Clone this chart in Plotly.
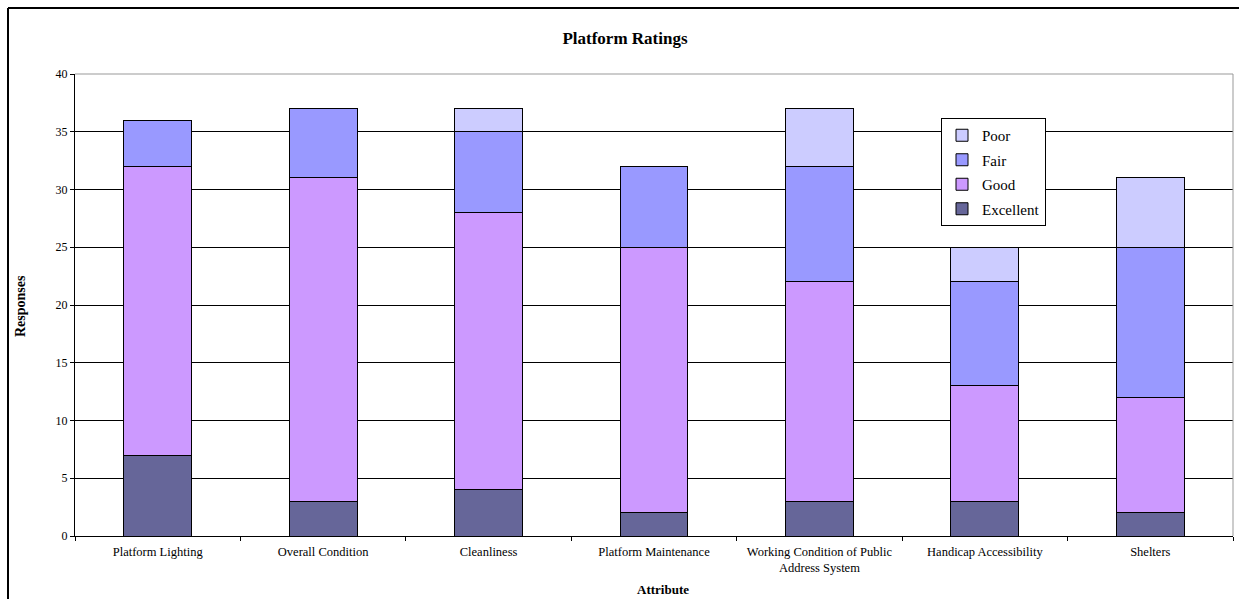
import plotly.graph_objects as go

categories = ["Platform Lighting", "Overall Condition", "Cleanliness", "Platform Maintenance",
              "Working Condition of Public<br>Address System", "Handicap Accessibility", "Shelters"]
excellent = [7, 3, 4, 2, 3, 3, 2]
good = [25, 28, 24, 23, 19, 10, 10]
fair = [4, 6, 7, 7, 10, 9, 13]
poor = [0, 0, 2, 0, 5, 3, 6]

series = [("Excellent", excellent, "#666699", 4), ("Good", good, "#CC99FF", 3),
          ("Fair", fair, "#9999FF", 2), ("Poor", poor, "#CCCCFF", 1)]

FONT = "Liberation Serif, Times New Roman, serif"
W, H = 1239, 599
L, R, T, B = 75, 6, 74, 63
pw, ph = W - L - R, H - T - B

def px(x):
    return (x - L) / pw

def py(y):
    return (H - B - y) / ph

fig = go.Figure()
for name, vals, col, rank in series:
    fig.add_trace(go.Bar(x=categories, y=vals, name=name, legendgroup=name, legendrank=rank,
                         marker=dict(color=col, line=dict(color="black", width=1))))

fig.update_layout(
    width=W, height=H, barmode="stack", bargap=0.59,
    margin=dict(l=L, r=R, t=T, b=B),
    paper_bgcolor="white", plot_bgcolor="white",
    font=dict(family=FONT, size=12, color="black"),
    title=dict(text="<b>Platform Ratings</b>", x=625 / W, xanchor="center", xref="container",
               y=1 - 38 / H, yanchor="middle", font=dict(size=17)),
    legend=dict(x=px(941), y=py(118), xanchor="left", yanchor="top",
                traceorder="grouped", tracegroupgap=2, itemwidth=30,
                bordercolor="black", borderwidth=1, bgcolor="white",
                font=dict(size=15, family=FONT)),
    xaxis=dict(showline=True, linecolor="black", ticks="outside", tickson="boundaries",
               ticklen=4, tickcolor="black", tickfont=dict(size=12.5), mirror=False,
               ticklabelstandoff=4),
    yaxis=dict(range=[0, 40], dtick=5, showgrid=True, gridcolor="black", gridwidth=1,
               showline=True, linecolor="black", ticks="outside", ticklen=4,
               tickcolor="black", tickfont=dict(size=12), zeroline=False),
    shapes=[
        dict(type="line", xref="paper", yref="paper", x0=px(8), x1=px(8), y0=py(8), y1=py(600),
             line=dict(color="black", width=2)),
        dict(type="line", xref="paper", yref="paper", x0=px(8), x1=px(1240), y0=py(8), y1=py(8),
             line=dict(color="black", width=2)),
        dict(type="line", xref="paper", yref="paper", x0=0, x1=1, y0=1, y1=1,
             line=dict(color="#999999", width=1)),
        dict(type="line", xref="paper", yref="paper", x0=1, x1=1, y0=0, y1=1,
             line=dict(color="#999999", width=1)),
    ],
    annotations=[
        dict(text="<b>Responses</b>", xref="paper", yref="paper", x=px(20), y=py(306),
             xanchor="center", yanchor="middle",
             textangle=-90, showarrow=False, font=dict(size=14)),
        dict(text="<b>Attribute</b>", xref="paper", yref="paper", x=px(663), y=py(589),
             xanchor="center", yanchor="middle",
             showarrow=False, font=dict(size=13)),
    ],
)

fig.write_html("out.html")
